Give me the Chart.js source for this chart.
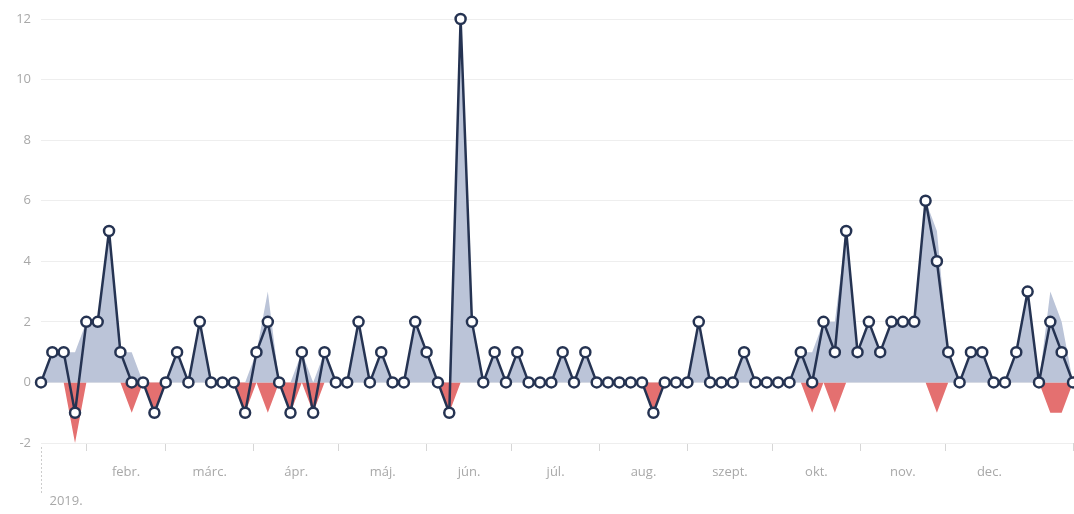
<!DOCTYPE html>
<html>
<head>
<meta charset="utf-8">
<script src="https://cdn.jsdelivr.net/npm/chart.js@4.4.1/dist/chart.umd.min.js"></script>
<style>
  html, body { margin: 0; padding: 0; background: #fff; }
  #wrap { width: 1074px; height: 514px; position: relative; }
</style>
</head>
<body>
<div id="wrap"><canvas id="chart"></canvas></div>
<script>
// days counted from 2019-01-01, one point every 4 days
const firstDay = 15;
const stepDays = 4;

// net value (line)
const net = [0, 1, 1, -1, 2, 2, 5, 1, 0, 0,
  -1, 0, 1, 0, 2, 0, 0, 0, -1, 1,
  2, 0, -1, 1, -1, 1, 0, 0, 2, 0,
  1, 0, 0, 2, 1, 0, -1, 12, 2, 0,
  1, 0, 1, 0, 0, 0, 1, 0, 1, 0,
  0, 0, 0, 0, -1, 0, 0, 0, 2, 0,
  0, 0, 1, 0, 0, 0, 0, 1, 0, 2,
  1, 5, 1, 2, 1, 2, 2, 2, 6, 4,
  1, 0, 1, 1, 0, 0, 1, 3, 0, 2,
  1, 0];

// positive part (blue area)
const plus = [0, 1, 1, 1, 2, 2, 5, 1, 1, 0,
  0, 0, 1, 0, 2, 0, 0, 0, 0, 1,
  3, 0, 0, 1, 0, 1, 0, 0, 2, 0,
  1, 0, 0, 2, 1, 0, 0, 12, 2, 0,
  1, 0, 1, 0, 0, 0, 1, 0, 1, 0,
  0, 0, 0, 0, 0, 0, 0, 0, 2, 0,
  0, 0, 1, 0, 0, 0, 0, 1, 1, 2,
  2, 5, 1, 2, 1, 2, 2, 2, 6, 5,
  1, 0, 1, 1, 0, 0, 1, 3, 0, 3,
  2, 0];

// negative part (red area)
const minus = [0, 0, 0, -2, 0, 0, 0, 0, -1, 0,
  -1, 0, 0, 0, 0, 0, 0, 0, -1, 0,
  -1, 0, -1, 0, -1, 0, 0, 0, 0, 0,
  0, 0, 0, 0, 0, 0, -1, 0, 0, 0,
  0, 0, 0, 0, 0, 0, 0, 0, 0, 0,
  0, 0, 0, 0, -1, 0, 0, 0, 0, 0,
  0, 0, 0, 0, 0, 0, 0, 0, -1, 0,
  -1, 0, 0, 0, 0, 0, 0, 0, 0, -1,
  0, 0, 0, 0, 0, 0, 0, 0, 0, -1,
  -1, 0];

const monthStarts = [31, 59, 90, 120, 151, 181, 212, 243, 273, 304, 334, 365];
const monthNames = ['febr.', 'márc.', 'ápr.', 'máj.', 'jún.', 'júl.', 'aug.', 'szept.', 'okt.', 'nov.', 'dec.'];
const yearLabel = '2019.';

const navy = '#253352';
const blueFill = 'rgb(187, 196, 216)';
const redFill = 'rgb(228, 112, 112)';
const textGrey = '#a8a8a8';

const days = net.map((v, i) => firstDay + i * stepDays);
const lastDay = days[days.length - 1];

function points(values) {
  return values.map((v, i) => ({ x: days[i], y: v }));
}

// tick marks on month boundaries, labels in the middle of each month
const boundaryTicks = monthStarts.slice(0, monthNames.length).concat([lastDay]);
const labelTicks = monthNames.map((n, i) => (monthStarts[i] + monthStarts[i + 1]) / 2);

Chart.defaults.font.family = '"Open Sans", sans-serif';
Chart.defaults.font.size = 13;
Chart.defaults.color = textGrey;

const yearMarker = {
  id: 'yearMarker',
  afterDraw(chart) {
    const { ctx, chartArea } = chart;
    const x = Math.round(chartArea.left) + 0.5;
    ctx.save();
    ctx.strokeStyle = '#cccccc';
    ctx.lineWidth = 1;
    ctx.setLineDash([2, 2]);
    ctx.beginPath();
    ctx.moveTo(x, chartArea.bottom + 4);
    ctx.lineTo(x, chartArea.bottom + 50);
    ctx.stroke();
    ctx.setLineDash([]);
    ctx.fillStyle = textGrey;
    ctx.font = '13px "Open Sans", sans-serif';
    ctx.textBaseline = 'middle';
    ctx.fillText(yearLabel, x + 8, chartArea.bottom + 58);
    ctx.restore();
  }
};

const config = {
  type: 'line',
  data: {
    datasets: [{
      label: 'net',
      data: points(net),
      borderColor: navy,
      borderWidth: 2.5,
      borderJoinStyle: 'round',
      pointRadius: 5,
      pointBackgroundColor: '#ffffff',
      pointBorderColor: navy,
      pointBorderWidth: 2.5,
      fill: false,
      tension: 0,
      clip: false,
      order: 0
    }, {
      label: 'plus',
      data: points(plus),
      backgroundColor: blueFill,
      borderColor: 'rgba(0,0,0,0)',
      borderWidth: 0,
      pointRadius: 0,
      fill: 'origin',
      tension: 0,
      order: 1
    }, {
      label: 'minus',
      data: points(minus),
      backgroundColor: redFill,
      borderColor: 'rgba(0,0,0,0)',
      borderWidth: 0,
      pointRadius: 0,
      fill: 'origin',
      tension: 0,
      order: 2
    }]
  },
  options: {
    responsive: true,
    maintainAspectRatio: false,
    animation: false,
    layout: { autoPadding: false, padding: { top: 19, right: 1, left: 0, bottom: 0 } },
    plugins: {
      legend: { display: false },
      tooltip: { enabled: false }
    },
    scales: {
      x: {
        type: 'linear',
        min: firstDay,
        max: lastDay,
        afterFit: scale => {
          scale.height = 71;
          scale.paddingLeft = 0;
          scale.paddingRight = 0;
        },
        afterBuildTicks: scale => {
          scale.ticks = boundaryTicks.concat(labelTicks)
            .sort((a, b) => a - b)
            .map(v => ({ value: v }));
        },
        ticks: {
          autoSkip: false,
          maxRotation: 0,
          padding: 13,
          callback: value => {
            const i = labelTicks.indexOf(value);
            return i >= 0 ? monthNames[i] : '';
          }
        },
        grid: {
          drawOnChartArea: false,
          tickLength: 8,
          tickColor: ctx => boundaryTicks.includes(ctx.tick.value) ? '#d6d6d6' : 'rgba(0,0,0,0)'
        },
        border: { display: false }
      },
      y: {
        min: -2,
        max: 12,
        afterFit: scale => { scale.width = 41; },
        ticks: { stepSize: 2, padding: 10 },
        grid: { color: '#eeeeee', drawTicks: false },
        border: { display: false }
      }
    }
  },
  plugins: [yearMarker]
};

const chart = new Chart(document.getElementById('chart'), config);
</script>
</body>
</html>
